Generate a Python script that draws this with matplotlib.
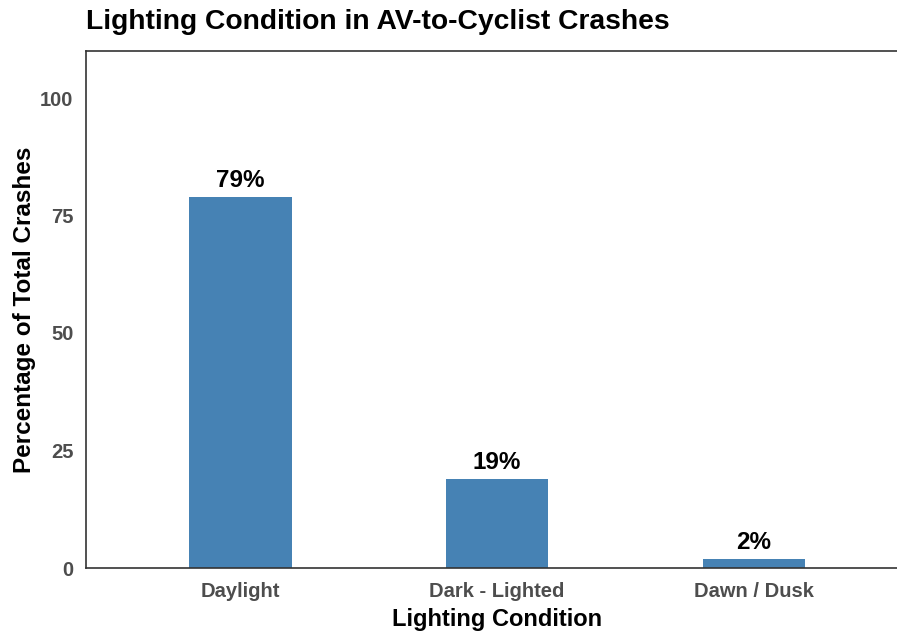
import matplotlib.pyplot as plt

# data
conditions = ["Daylight", "Dark - Lighted", "Dawn / Dusk"]
percent = [79, 19, 2]
y_ticks = [0, 25, 50, 75, 100]

plt.rcParams['font.family'] = ['Liberation Sans', 'DejaVu Sans']
plt.rcParams['font.weight'] = 'bold'

fig = plt.figure(figsize=(8.97, 6.34), dpi=100)
W, H = 897, 634
# panel: left 86px, right runs past the image edge (908px), top 51px, bottom 568px
ax = fig.add_axes([86 / W, 1 - 568 / H, (908 - 86) / W, (568 - 51) / H])

x = list(range(1, len(conditions) + 1))
ax.bar(x, percent, width=0.4, color="#4682B4")

for xi, p in zip(x, percent):
    ax.text(xi, p + 1.0, f"{p}%", ha="center", va="bottom",
            fontsize=17.5, fontweight="bold", color="black")

ax.set_xlim(0.4, 3.6)
ax.set_ylim(0, 110)
ax.set_xticks(x)
ax.set_xticklabels(conditions)
ax.set_yticks(y_ticks)
ax.tick_params(length=0, labelsize=14.5, labelcolor="#4D4D4D")
ax.tick_params(axis="x", pad=10)
ax.tick_params(axis="y", pad=9)
for lab in ax.get_xticklabels() + ax.get_yticklabels():
    lab.set_fontweight("bold")

for side in ["left", "bottom", "top", "right"]:
    ax.spines[side].set_color("#333333")
    ax.spines[side].set_linewidth(1.2)

ax.set_xlabel("Lighting Condition", fontsize=17, fontweight="bold", labelpad=5)
ax.set_ylabel("Percentage of Total Crashes", fontsize=17.5, fontweight="bold", labelpad=3)

fig.text(86 / W, 1 - 22 / H, "Lighting Condition in AV-to-Cyclist Crashes",
         ha="left", va="center", fontsize=20.3, fontweight="bold")

fig.savefig("out.png", dpi=100)
